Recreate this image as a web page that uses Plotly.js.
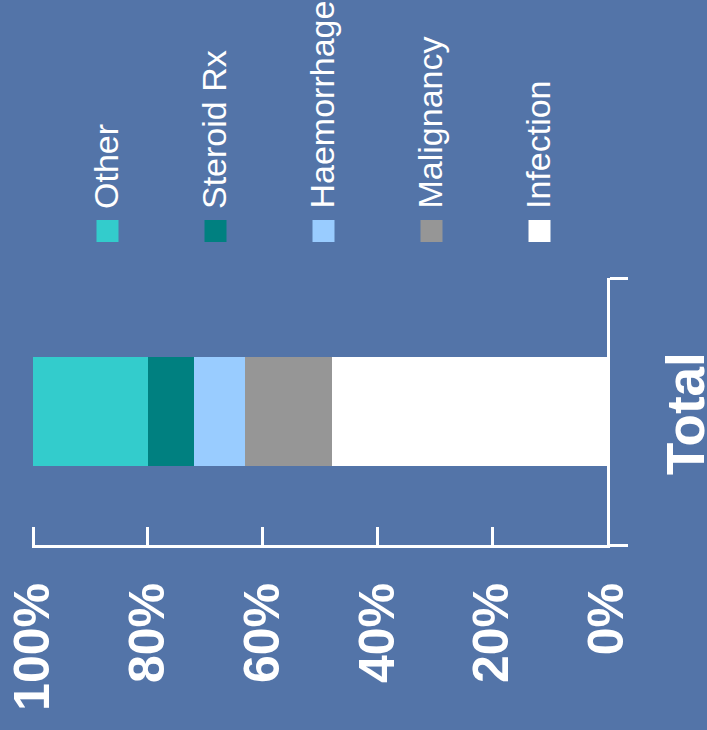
<!DOCTYPE html>
<html>
<head>
<meta charset="utf-8">
<script src="https://cdn.plot.ly/plotly-3.0.1.min.js"></script>
<style>
  html, body { margin: 0; padding: 0; background: #5374A8; overflow: hidden; }
  #chart { width: 707px; height: 730px; }
</style>
</head>
<body>
<div id="chart"></div>
<script>
// ---- data ----
const categories = ['Total'];
const causes = ['Infection', 'Malignancy', 'Haemorrhage', 'Steroid Rx', 'Other'];
const percentages = [48, 15, 9, 8, 20];
const tickValues = [0, 20, 40, 60, 80, 100];
const tickLabels = ['0%', '20%', '40%', '60%', '80%', '100%'];

// ---- styles ----
const causeColors = ['#FFFFFF', '#969696', '#99CCFF', '#008080', '#33CCCC'];
const FONT = '"Liberation Sans", Arial, sans-serif';
const W = 707, H = 730;
const M = { l: 32, r: 100, t: 278, b: 185 };
const pw = W - M.l - M.r, ph = H - M.t - M.b;
const toPaperX = x => (x - M.l) / pw;
const toPaperY = y => (H - M.b - y) / ph;

const traces = causes.map((c, i) => ({
  type: 'bar',
  orientation: 'h',
  name: c,
  y: categories,
  x: [percentages[i]],
  width: 0.405,
  marker: { color: causeColors[i], line: { width: 0 } },
  showlegend: false,
  hovertemplate: c + ': %{x}%<extra></extra>'
}));

// custom rotated legend (Other first, Infection last)
const shapes = [];
const annotations = [];
const n = causes.length;
for (let k = 0; k < n; k++) {
  const idx = n - 1 - k;
  const cx = 107.5 + k * 108;
  shapes.push({
    type: 'rect', xref: 'paper', yref: 'paper',
    x0: toPaperX(cx - 11), x1: toPaperX(cx + 11),
    y0: toPaperY(242), y1: toPaperY(220),
    fillcolor: causeColors[idx], line: { width: 0 }
  });
  annotations.push({
    xref: 'paper', yref: 'paper',
    x: toPaperX(cx - 2), y: toPaperY(211),
    xanchor: 'center', yanchor: 'bottom',
    text: causes[idx], textangle: -90, showarrow: false,
    font: { family: FONT, size: 34, color: '#FFFFFF' }
  });
}

const layout = {
  width: W, height: H,
  margin: M,
  paper_bgcolor: '#5374A8',
  plot_bgcolor: '#5374A8',
  barmode: 'stack',
  showlegend: false,
  font: { family: FONT, color: '#FFFFFF' },
  xaxis: {
    range: [100.2, 0],
    tickvals: tickValues, ticktext: tickLabels,
    ticks: 'inside', ticklen: 18, tickwidth: 3, tickcolor: '#FFFFFF',
    showline: true, linecolor: '#FFFFFF', linewidth: 3,
    showgrid: false, zeroline: false,
    tickangle: -90,
    ticklabelstandoff: 15,
    tickfont: { family: FONT, size: 50, color: '#FFFFFF', weight: 'bold' },
    fixedrange: true
  },
  yaxis: {
    type: 'category', side: 'right', range: [-0.5, 0.5],
    ticks: 'outside', tickson: 'boundaries', ticklen: 18, tickwidth: 3, tickcolor: '#FFFFFF',
    showline: true, linecolor: '#FFFFFF', linewidth: 3,
    showgrid: false, zeroline: false,
    tickangle: -90,
    ticklabelstandoff: 30,
    ticklabelshift: 10,
    tickfont: { family: FONT, size: 53, color: '#FFFFFF', weight: 'bold' },
    fixedrange: true
  },
  shapes: shapes,
  annotations: annotations
};

Plotly.newPlot('chart', traces, layout, { displayModeBar: false });
</script>
</body>
</html>
